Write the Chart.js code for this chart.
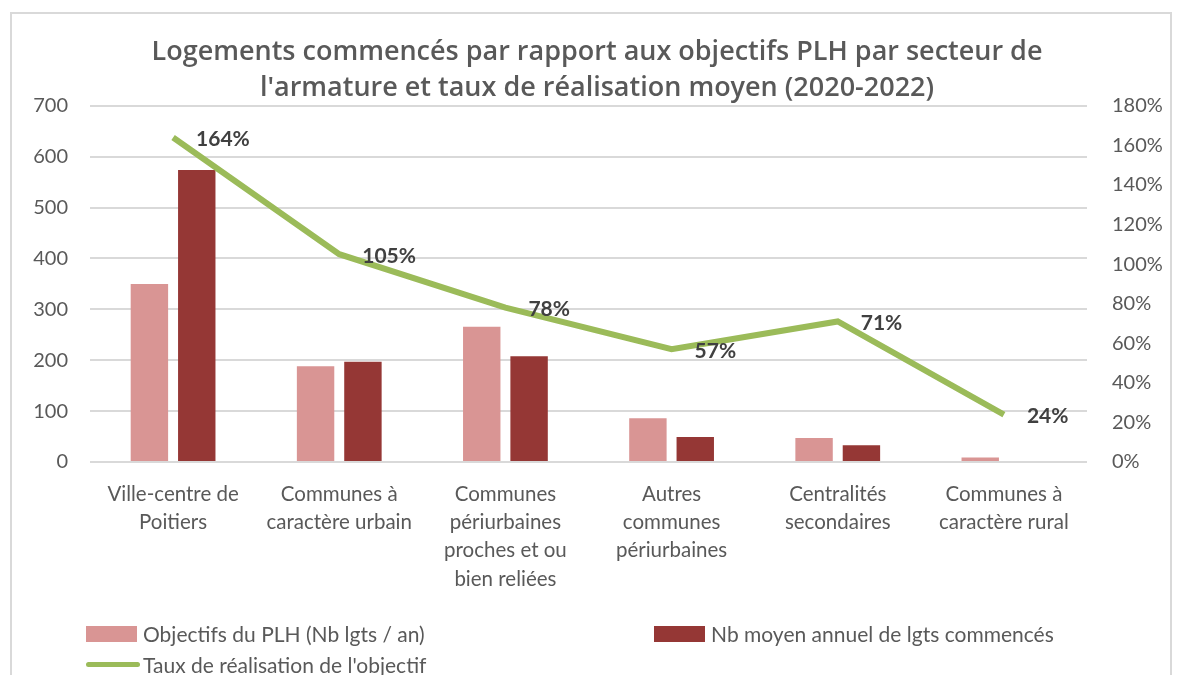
<!DOCTYPE html>
<html lang="fr">
<head>
<meta charset="utf-8">
<title>Logements commencés par rapport aux objectifs PLH</title>
<script src="https://cdn.jsdelivr.net/npm/chart.js@4.4.0/dist/chart.umd.min.js"></script>
<style>
    html, body { margin: 0; padding: 0; background: #fff; overflow: hidden; }
    .wrap { position: relative; width: 1184px; height: 675px; }
    .frame { position: absolute; left: 10px; top: 12px; width: 1162px; height: 700px; border: 2px solid #d9d9d9; box-sizing: border-box; }
    canvas { position: absolute; left: 0; top: 0; }
    #legend { position: absolute; left: 86px; top: 620px; width: 1000px; font-family: Lato, sans-serif; font-size: 21px; color: #595959; display: grid; grid-template-columns: 568px 420px; row-gap: 4px; }
    #legend .item { display: flex; align-items: center; height: 27px; white-space: nowrap; }
    #legend .swatch { width: 51px; height: 16px; margin-right: 6px; }
    #legend .swatch.line { height: 5px; border-radius: 3px; width: 54px; margin-right: 3px; }
</style>
</head>
<body>
<div class="wrap">
    <div class="frame"></div>
    <canvas id="plhChart" width="1184" height="675"></canvas>
    <div id="legend"></div>
</div>
<script>
const categories = [
    ['Ville-centre de', 'Poitiers'],
    ['Communes à', 'caractère urbain'],
    ['Communes', 'périurbaines', 'proches et ou', 'bien reliées'],
    ['Autres', 'communes', 'périurbaines'],
    ['Centralités', 'secondaires'],
    ['Communes à', 'caractère rural']
];
const objectifsPLH = [350, 188, 266, 86, 47, 9];
const logementsCommences = [574, 197, 208, 49, 33, 2];
const tauxRealisation = [164, 105, 78, 57, 71, 24];

const seriesNames = [
    'Objectifs du PLH (Nb lgts / an)',
    'Nb moyen annuel de lgts commencés',
    "Taux de réalisation de l'objectif"
];

const grey = '#595959';

// labels to the right of each point of the line
const lineLabelsPlugin = {
    id: 'lineLabels',
    afterDatasetsDraw(chart) {
        const {ctx} = chart;
        const meta = chart.getDatasetMeta(2);
        ctx.save();
        ctx.font = 'bold 21px Lato, sans-serif';
        ctx.fillStyle = '#404040';
        ctx.textAlign = 'left';
        ctx.textBaseline = 'middle';
        meta.data.forEach((pt, i) => {
            ctx.fillText(tauxRealisation[i] + '%', pt.x + 23, pt.y + 2);
        });
        ctx.restore();
    }
};

// html legend, two columns like the original
const htmlLegendPlugin = {
    id: 'htmlLegend',
    afterUpdate(chart) {
        const box = document.getElementById('legend');
        box.innerHTML = '';
        chart.data.datasets.forEach(ds => {
            const item = document.createElement('div');
            item.className = 'item';
            const sw = document.createElement('span');
            sw.className = ds.type === 'line' ? 'swatch line' : 'swatch';
            sw.style.background = ds.type === 'line' ? ds.borderColor : ds.backgroundColor;
            const txt = document.createElement('span');
            txt.textContent = ds.label;
            item.appendChild(sw);
            item.appendChild(txt);
            box.appendChild(item);
        });
    }
};

const ctx = document.getElementById('plhChart').getContext('2d');

const plhChart = new Chart(ctx, {
    data: {
        labels: categories,
        datasets: [
            {
                type: 'bar',
                label: seriesNames[0],
                data: objectifsPLH,
                backgroundColor: '#d99594',
                yAxisID: 'y',
                order: 2
            },
            {
                type: 'bar',
                label: seriesNames[1],
                data: logementsCommences,
                backgroundColor: '#953735',
                yAxisID: 'y',
                order: 2
            },
            {
                type: 'line',
                label: seriesNames[2],
                data: tauxRealisation,
                borderColor: '#9bbb59',
                borderWidth: 6,
                pointRadius: 0,
                tension: 0,
                yAxisID: 'y1',
                order: 1
            }
        ]
    },
    options: {
        responsive: false,
        animation: false,
        devicePixelRatio: 1,
        datasets: {
            bar: { categoryPercentage: 0.57, barPercentage: 0.79 }
        },
        layout: {
            padding: { left: 10, right: 0, top: 12, bottom: 63 }
        },
        plugins: {
            legend: { display: false },
            tooltip: { enabled: false },
            title: {
                display: true,
                text: [
                    'Logements commencés par rapport aux objectifs PLH par secteur de',
                    "l'armature et taux de réalisation moyen (2020-2022)"
                ],
                color: grey,
                font: { family: 'Open Sans, sans-serif', size: 27, weight: '600', lineHeight: 1.33 },
                padding: { top: 22, bottom: 0 }
            }
        },
        scales: {
            x: {
                grid: { display: false, drawTicks: false },
                border: { display: false },
                ticks: {
                    color: grey,
                    font: { family: 'Lato, sans-serif', size: 20.5, lineHeight: 1.38 },
                    padding: 18,
                    maxRotation: 0,
                    autoSkip: false
                },
                afterFit(scale) { scale.height = 150; }
            },
            y: {
                position: 'left',
                min: 0,
                max: 700,
                ticks: {
                    stepSize: 100,
                    color: grey,
                    font: { family: 'Lato, sans-serif', size: 20 },
                    padding: 22
                },
                grid: { color: '#d9d9d9', lineWidth: 2, drawTicks: false },
                border: { display: false },
                afterFit(scale) { scale.width = 80; }
            },
            y1: {
                position: 'right',
                min: 0,
                max: 180,
                ticks: {
                    stepSize: 20,
                    color: grey,
                    font: { family: 'Lato, sans-serif', size: 20 },
                    padding: 25,
                    callback: v => v + '%'
                },
                grid: { display: false, drawTicks: false },
                border: { display: false },
                afterFit(scale) { scale.width = 97; }
            }
        }
    },
    plugins: [lineLabelsPlugin, htmlLegendPlugin]
});
</script>
</body>
</html>
